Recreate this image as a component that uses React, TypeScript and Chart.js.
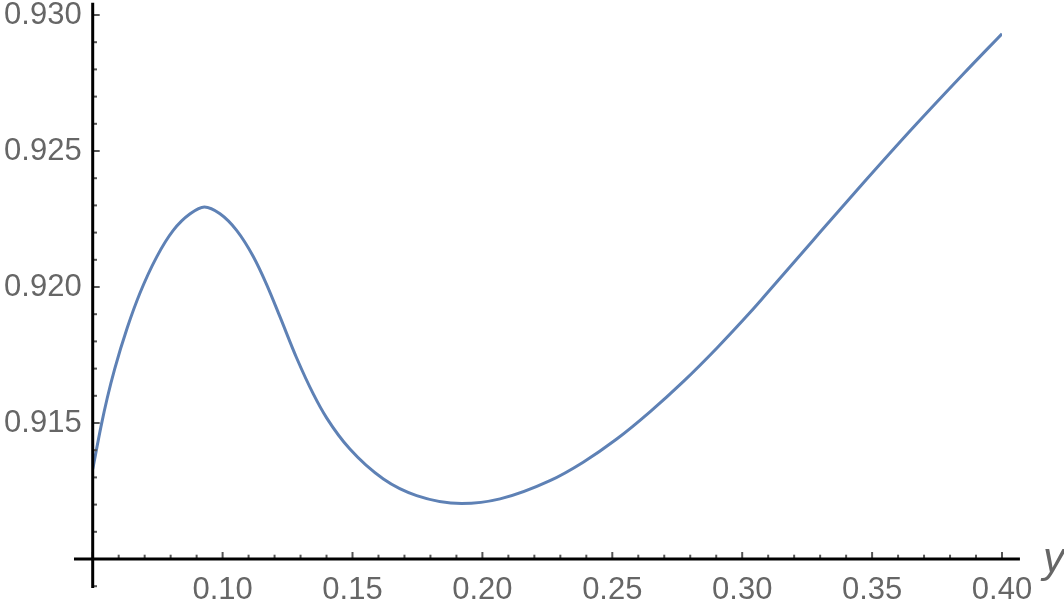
import React, { useEffect, useRef } from 'react';
import { Chart, registerables } from 'chart.js';

Chart.register(...registerables);

// ---- data ----
const xValues = [
  0.05, 0.0533, 0.0556, 0.0585, 0.0633, 0.0682, 0.0746, 0.081, 0.0875, 0.093,
  0.099, 0.1054, 0.1118, 0.117, 0.1221, 0.1285, 0.1349, 0.1401, 0.149, 0.1619,
  0.1747, 0.192, 0.2068, 0.226, 0.2388, 0.2517, 0.2645, 0.2773, 0.2902, 0.303,
  0.3081, 0.3274, 0.3466, 0.3659, 0.3851, 0.4,
];
const yValues = [
  0.9133, 0.91492, 0.91592, 0.917, 0.9185, 0.91978, 0.9211, 0.92208, 0.92269, 0.92294,
  0.92269, 0.92208, 0.92112, 0.92008, 0.9189, 0.91739, 0.91607, 0.91518, 0.91404, 0.91294,
  0.91233, 0.91204, 0.91221, 0.91288, 0.91356, 0.91441, 0.91541, 0.91652, 0.91775, 0.91906,
  0.91961, 0.92173, 0.92382, 0.92587, 0.92783, 0.92931,
];

const X_MIN = 0.05;
const X_MAX = 0.4;
const Y_MIN = 0.91;
const Y_MAX = 0.93;
const X_STEP = 0.01;
const Y_STEP = 0.001;
const X_LABEL_EVERY = 5; // label every 0.05
const Y_LABEL_EVERY = 5; // label every 0.005
const AXIS_LABEL = 'y';

const LABEL_COLOR = '#666666';
const LINE_COLOR = '#5E81B5';
const FONT_FAMILY = '"Liberation Sans", Arial, Helvetica, sans-serif';

const axesPlugin = {
  id: 'mmaAxes',
  afterDraw(chart: any) {
    const { ctx } = chart;
    const xs = chart.scales.x;
    const ys = chart.scales.y;
    const ax = xs.getPixelForValue(X_MIN);
    const ay = ys.getPixelForValue(Y_MIN);
    ctx.save();
    ctx.lineCap = 'butt';
    // ticks (pointing inward)
    ctx.strokeStyle = '#555555';
    ctx.lineWidth = 2;
    for (const t of xs.ticks) {
      const k = Math.round(t.value / X_STEP);
      const major = k % X_LABEL_EVERY === 0;
      const px = xs.getPixelForValue(t.value);
      ctx.beginPath();
      ctx.moveTo(px, ay);
      ctx.lineTo(px, ay - (major ? 7 : 4.3));
      ctx.stroke();
    }
    const yTicks = ys.ticks.map((t: any) => t.value).concat([Y_MIN - Y_STEP]);
    for (const v of yTicks) {
      const k = Math.round(v / Y_STEP);
      const major = k % Y_LABEL_EVERY === 0;
      const py = ys.getPixelForValue(v);
      ctx.beginPath();
      ctx.moveTo(ax, py);
      ctx.lineTo(ax + (major ? 7 : 4.3), py);
      ctx.stroke();
    }
    // axis lines
    ctx.strokeStyle = '#000000';
    ctx.lineWidth = 3;
    ctx.beginPath();
    ctx.moveTo(xs.getPixelForValue(X_MIN - 0.0072), ay);
    ctx.lineTo(xs.getPixelForValue(X_MAX + 0.0069), ay);
    ctx.stroke();
    ctx.beginPath();
    ctx.moveTo(ax, ys.getPixelForValue(Y_MAX + 0.00045));
    ctx.lineTo(ax, ys.getPixelForValue(Y_MIN - 0.00107));
    ctx.stroke();
    // axis label
    ctx.font = 'italic 43px ' + FONT_FAMILY;
    ctx.fillStyle = LABEL_COLOR;
    ctx.textAlign = 'left';
    ctx.textBaseline = 'alphabetic';
    ctx.fillText(AXIS_LABEL, xs.getPixelForValue(X_MAX) + 41, ay + 13);
    ctx.restore();
  },
};

export default function App() {
  const ref = useRef<HTMLCanvasElement | null>(null);

  useEffect(() => {
    document.body.style.margin = '0';
    const canvas = ref.current;
    if (!canvas) return;
    const points = xValues.map((x, i) => ({ x, y: yValues[i] }));
    const chart = new Chart(canvas, {
      type: 'line',
      data: {
        datasets: [
          {
            data: points,
            borderColor: LINE_COLOR,
            borderWidth: 3,
            pointRadius: 0,
            fill: false,
            cubicInterpolationMode: 'monotone',
          },
        ],
      },
      options: {
        responsive: false,
        animation: false,
        events: [],
        layout: { padding: { top: 15, right: 62, left: 0, bottom: 0 } },
        plugins: { legend: { display: false }, tooltip: { enabled: false } },
        scales: {
          x: {
            type: 'linear',
            min: X_MIN,
            max: X_MAX,
            grid: { display: false, drawTicks: false },
            border: { display: false },
            ticks: {
              stepSize: X_STEP,
              autoSkip: false,
              maxRotation: 0,
              padding: 13,
              color: LABEL_COLOR,
              font: { family: FONT_FAMILY, size: 31 },
              callback: (value: any) => {
                const k = Math.round(Number(value) / X_STEP);
                if (k % X_LABEL_EVERY !== 0 || k === Math.round(X_MIN / X_STEP)) return '';
                return (k * X_STEP).toFixed(2);
              },
            },
            afterFit: (s: any) => {
              s.height = 53;
              s.paddingLeft = 0;
              s.paddingRight = 0;
            },
          },
          y: {
            type: 'linear',
            min: Y_MIN,
            max: Y_MAX,
            grid: { display: false, drawTicks: false },
            border: { display: false },
            ticks: {
              stepSize: Y_STEP,
              autoSkip: false,
              padding: 11,
              color: LABEL_COLOR,
              font: { family: FONT_FAMILY, size: 31 },
              callback: (value: any) => {
                const k = Math.round(Number(value) / Y_STEP);
                if (k % Y_LABEL_EVERY !== 0 || k === Math.round(Y_MIN / Y_STEP)) return '';
                return (k * Y_STEP).toFixed(3);
              },
            },
            afterFit: (s: any) => {
              s.width = 92.7;
              s.paddingTop = 0;
              s.paddingBottom = 0;
            },
          },
        },
      },
      plugins: [axesPlugin],
    });
    return () => chart.destroy();
  }, []);

  return (
    <div style={{ position: 'absolute', left: 0, top: 0, width: 1064, height: 612, background: '#ffffff' }}>
      <canvas ref={ref} width={1064} height={612} style={{ display: 'block' }} />
    </div>
  );
}
